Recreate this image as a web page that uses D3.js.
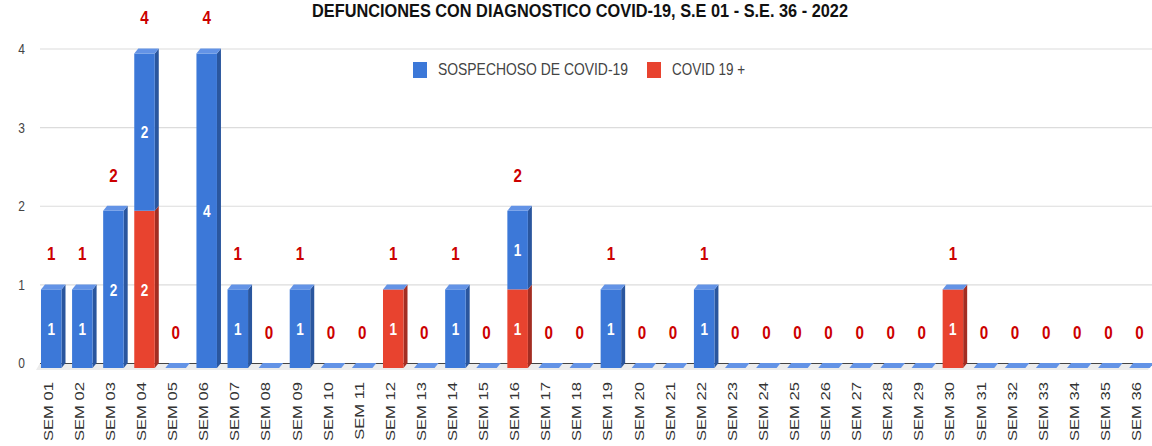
<!DOCTYPE html>
<html>
<head>
<meta charset="utf-8">
<script src="https://cdn.jsdelivr.net/npm/d3@7"></script>
<style>
  html, body { margin: 0; padding: 0; background: #fff; }
  svg { display: block; font-family: "Liberation Sans", Arial, sans-serif; }
</style>
</head>
<body>
<svg id="chart" width="1152" height="446"></svg>
<script>
// Weekly deaths with COVID-19 diagnosis, epidemiological weeks 01–36, 2022
const weeks = d3.range(1, 37).map(i => "SEM " + String(i).padStart(2, "0"));
const sospechoso = [1,1,2,2,0,4,1,0,1,0,0,0,0,1,0,1,0,0,1,0,0,1,0,0,0,0,0,0,0,0,0,0,0,0,0,0];
const covidPos   = [0,0,0,2,0,0,0,0,0,0,0,1,0,0,0,1,0,0,0,0,0,0,0,0,0,0,0,0,0,1,0,0,0,0,0,0];
const yTicks = [0, 1, 2, 3, 4];
const titleText = "DEFUNCIONES CON DIAGNOSTICO COVID-19, S.E 01 - S.E. 36 - 2022";
const legendLabels = ["SOSPECHOSO DE COVID-19", "COVID 19 +"];

const W = 1152, H = 446;
const svg = d3.select("#chart");

// 3D bar offsets: back plane sits on the grid, front face is shifted down-left
const DX = 4, DY = 5;
const SX = 0.8; // horizontal text compression

const x = d3.scaleBand().domain(weeks).range([35.7, 1155]).paddingInner(0.34).paddingOuter(0.17);
const y = d3.scaleLinear().domain([0, 4]).range([363, 48.5]);

const colors = {
  blue: { front: "#3c78d8", side: "#2a569e", top: "#6393e6" },
  red:  { front: "#e8432f", side: "#a32d22", top: "#f06a5a" }
};

// Floor
const gx0 = 40, gx1 = W;
svg.append("path")
  .attr("d", `M${gx0},${y(0)} L${gx1},${y(0)} L${gx1 - DX},${y(0) + DY + 2} L${gx0 - DX},${y(0) + DY + 2} Z`)
  .attr("fill", "#ececec");

// Gridlines
svg.append("g").selectAll("line").data(yTicks.filter(d => d > 0)).join("line")
  .attr("x1", gx0).attr("x2", gx1)
  .attr("y1", d => y(d) + 0.5).attr("y2", d => y(d) + 0.5)
  .attr("stroke", "#dcdcdc").attr("stroke-width", 1.2);

// Baseline
svg.append("line")
  .attr("x1", gx0).attr("x2", gx1)
  .attr("y1", y(0) + 0.5).attr("y2", y(0) + 0.5)
  .attr("stroke", "#444").attr("stroke-width", 1);

// Y axis labels
svg.append("g").selectAll("text").data(yTicks).join("text")
  .attr("transform", d => `translate(25,${y(d)}) scale(${SX},1)`)
  .attr("text-anchor", "end")
  .attr("dy", "0.36em")
  .attr("font-size", 15)
  .attr("fill", "#444")
  .text(d => d);

// Stacked series: COVID 19 + at the bottom, suspected on top
const rows = weeks.map((w, i) => ({ week: w, red: covidPos[i], blue: sospechoso[i] }));
const stack = d3.stack().keys(["red", "blue"])(rows);

const barsG = svg.append("g");
rows.forEach((row, i) => {
  const x0 = x(row.week), bw = x.bandwidth();
  const g = barsG.append("g");
  const segs = stack.map(s => ({ key: s.key, lo: s[i][0], hi: s[i][1] }));
  segs.forEach(seg => {
    if (seg.hi - seg.lo <= 0) return;
    const c = colors[seg.key];
    const yTop = y(seg.hi), yBot = y(seg.lo);
    // side face
    g.append("path")
      .attr("d", `M${x0 + bw},${yTop + DY} L${x0 + bw + DX},${yTop} L${x0 + bw + DX},${yBot} L${x0 + bw},${yBot + DY} Z`)
      .attr("fill", c.side);
    // front face
    g.append("rect")
      .attr("x", x0).attr("y", yTop + DY)
      .attr("width", bw).attr("height", yBot - yTop)
      .attr("fill", c.front);
  });
  // top face of the stack (suspected series sits on top)
  const total = row.red + row.blue;
  const yT = y(total);
  g.append("path")
    .attr("d", `M${x0},${yT + DY} L${x0 + DX},${yT} L${x0 + bw + DX},${yT} L${x0 + bw},${yT + DY} Z`)
    .attr("fill", colors.blue.top);

  // segment value labels
  segs.forEach(seg => {
    const v = seg.hi - seg.lo;
    if (v <= 0) return;
    const cy = (y(seg.hi) + y(seg.lo)) / 2 + DY;
    g.append("text")
      .attr("transform", `translate(${x0 + bw / 2},${cy}) scale(${SX},1)`)
      .attr("text-anchor", "middle")
      .attr("dy", "0.36em")
      .attr("font-size", 17)
      .attr("font-weight", "bold")
      .attr("fill", "#fff")
      .text(v);
  });

  // total label
  g.append("text")
    .attr("transform", `translate(${x0 + bw / 2},${yT - 31}) scale(${SX},1)`)
    .attr("text-anchor", "middle")
    .attr("dy", "0.36em")
    .attr("font-size", 19)
    .attr("font-weight", "bold")
    .attr("fill", "#cc0000")
    .text(total);
});

// X axis labels (rotated)
svg.append("g").selectAll("text").data(weeks).join("text")
  .attr("transform", d => `translate(${x(d) + x.bandwidth() / 2 - 3},382) scale(0.76,1) rotate(-90)`)
  .attr("text-anchor", "end")
  .attr("dy", "0.36em")
  .attr("font-size", 16.6)
  .attr("fill", "#333")
  .text(d => d);

// Title
svg.append("text")
  .attr("x", 580).attr("y", 16.5)
  .attr("text-anchor", "middle")
  .attr("font-size", 18)
  .attr("font-weight", "bold")
  .attr("fill", "#111")
  .attr("textLength", 536)
  .attr("lengthAdjust", "spacingAndGlyphs")
  .text(titleText);

// Legend
const legend = svg.append("g");
const legItems = [
  { label: legendLabels[0], color: colors.blue.front, sx: 413, tx: 438, len: 190 },
  { label: legendLabels[1], color: colors.red.front,  sx: 647, tx: 672, len: 73 }
];
legItems.forEach(it => {
  legend.append("rect").attr("x", it.sx).attr("y", 62).attr("width", 14).attr("height", 16).attr("fill", it.color);
  legend.append("text")
    .attr("x", it.tx).attr("y", 75)
    .attr("font-size", 17)
    .attr("fill", "#444")
    .attr("textLength", it.len)
    .attr("lengthAdjust", "spacingAndGlyphs")
    .text(it.label);
});
</script>
</body>
</html>
